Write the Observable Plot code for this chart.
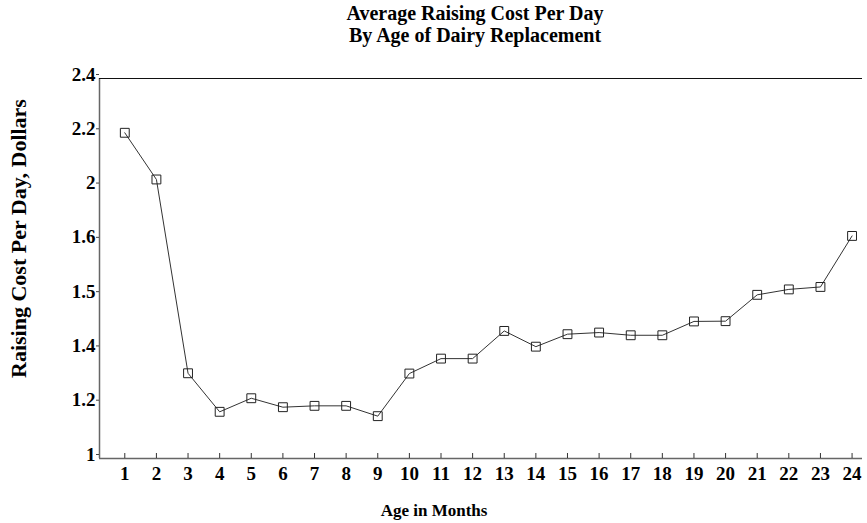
<!DOCTYPE html>
<html>
<head>
<meta charset="utf-8">
<script src="https://cdn.jsdelivr.net/npm/d3@7"></script>
<script src="https://cdn.jsdelivr.net/npm/@observablehq/plot@0.6"></script>
<style>
  html, body { margin: 0; padding: 0; background: #fff; }
  #chart svg { display: block; }
</style>
</head>
<body>
<div id="chart"></div>
<script>
const titleText = "Average Raising Cost Per Day\nBy Age of Dairy Replacement";
const xLabel = "Age in Months";
const yLabel = "Raising Cost Per Day, Dollars";

const months = [1, 2, 3, 4, 5, 6, 7, 8, 9, 10, 11, 12, 13, 14, 15, 16, 17, 18, 19, 20, 21, 22, 23, 24];
const costs = [2.200, 2.028, 1.314, 1.172, 1.222, 1.189, 1.194, 1.194, 1.156, 1.313, 1.368, 1.368,
               1.470, 1.412, 1.458, 1.464, 1.454, 1.454, 1.505, 1.506, 1.603, 1.623, 1.632, 1.820];

const yTickValues = [1, 1.2, 1.4, 1.6, 1.8, 2.0, 2.2, 2.4];
const yTickLabels = ["1", "1.2", "1.4", "1.5", "1.6", "2", "2.2", "2.4"];
const xTickLabels = months.map(String);

const yDomain = [1, 2.4];
const xDomain = [0.2, 24.33];

const data = months.map((m, i) => ({month: m, cost: costs[i]}));
const font = "Liberation Serif, Times New Roman, serif";

const chart = Plot.plot({
  width: 867,
  height: 523,
  marginTop: 78,
  marginBottom: 65,
  marginLeft: 99,
  marginRight: 5,
  style: {fontFamily: font, fontWeight: "bold", background: "#fff", color: "#000"},
  x: {domain: xDomain, label: null},
  y: {domain: yDomain, label: null},
  marks: [
    // axis lines
    Plot.ruleX([xDomain[0]], {stroke: "#666", strokeWidth: 1.5}),
    Plot.ruleY([yDomain[0]], {stroke: "#666", strokeWidth: 1.5}),
    Plot.ruleY([yDomain[1]], {stroke: "#111", strokeWidth: 1.2}),
    // x ticks (inward)
    Plot.tickX(months, {x: d => d, stroke: "#333", insetTop: 375}),
    Plot.axisX({
      ticks: months, tickSize: 0, tickPadding: 8, fontSize: 19,
      tickFormat: (d, i) => xTickLabels[i], fill: "#000"
    }),
    Plot.axisY({
      ticks: yTickValues, tickSize: 3, tickPadding: 1, fontSize: 19, dy: -4,
      tickFormat: (d, i) => yTickLabels[i], stroke: "#444", fill: "#000"
    }),
    // data
    Plot.line(data, {x: "month", y: "cost", stroke: "#333", strokeWidth: 1}),
    Plot.dot(data, {x: "month", y: "cost", symbol: "square", r: 5, stroke: "#222", strokeWidth: 1, fill: "none"}),
    // texts
    Plot.text([titleText], {frameAnchor: "top", lineAnchor: "top", dy: -75, dx: -6, fontSize: 20, lineHeight: 1.13, fill: "#000"}),
    Plot.text([xLabel], {frameAnchor: "bottom", lineAnchor: "middle", dy: 52, dx: -47, fontSize: 17, fill: "#000"}),
    Plot.text([yLabel], {frameAnchor: "left", textAnchor: "middle", rotate: -90, dx: -81, dy: -30, fontSize: 22, fill: "#000"})
  ]
});
document.getElementById("chart").appendChild(chart);
</script>
</body>
</html>
